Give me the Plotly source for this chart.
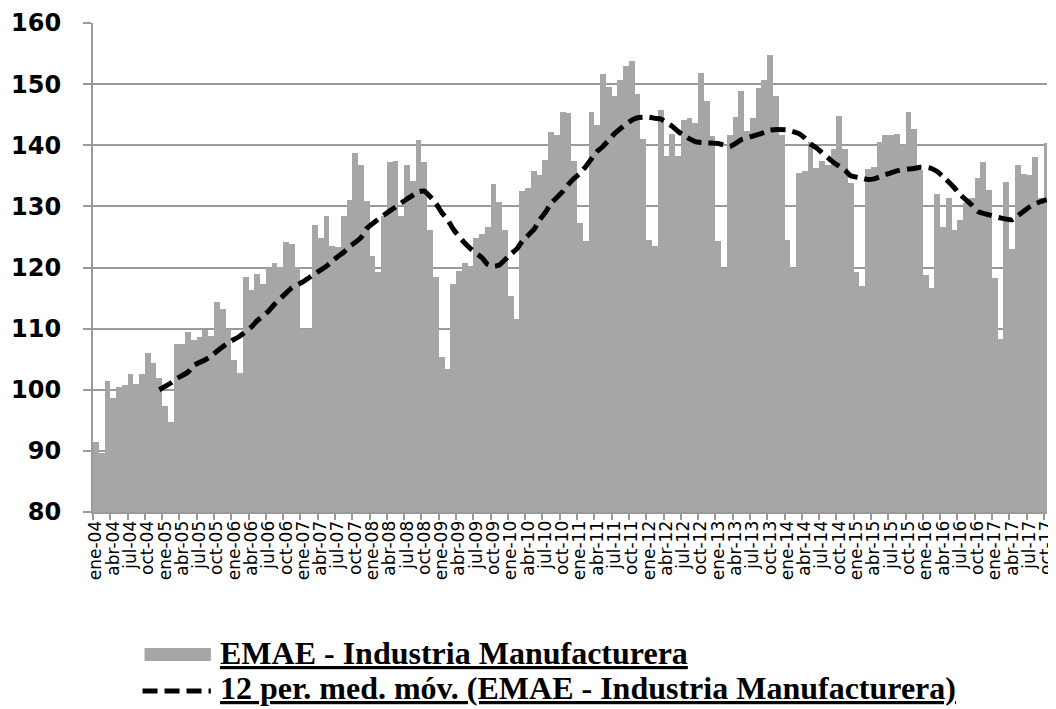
import plotly.graph_objects as go

# ---- categories (monthly, ene-04 .. oct-17) ----
month_abbr = ["ene", "feb", "mar", "abr", "may", "jun", "jul", "ago", "sep", "oct", "nov", "dic"]
years = ["04", "05", "06", "07", "08", "09", "10", "11", "12", "13", "14", "15", "16", "17"]
months = [f"{m}-{y}" for y in years for m in month_abbr][:166]

# ---- EMAE - Industria Manufacturera ----
emae = [
    91.4, 89.7, 101.5, 98.6, 100.5, 100.8, 102.6, 101.0, 102.6, 106.0, 104.4, 102.0,
    97.4, 94.8, 107.5, 107.5, 109.5, 108.1, 108.6, 109.8, 108.8, 114.4, 113.2, 110.0,
    104.9, 102.8, 118.4, 116.4, 119.0, 117.3, 119.9, 120.7, 120.1, 124.2, 123.8, 120.1,
    110.0, 110.0, 127.0, 124.8, 128.5, 123.6, 123.4, 128.5, 131.1, 138.8, 136.7, 130.9,
    121.9, 119.2, 128.4, 137.3, 137.5, 128.4, 136.8, 134.1, 140.8, 137.2, 126.2, 118.5,
    105.3, 103.4, 117.3, 119.4, 120.8, 120.2, 124.8, 125.4, 126.7, 133.7, 130.7, 126.2,
    115.3, 111.5, 132.5, 133.0, 135.8, 135.2, 137.6, 142.1, 141.6, 145.5, 145.2, 137.4,
    127.3, 124.3, 145.4, 143.3, 151.6, 149.5, 148.0, 150.6, 153.0, 153.8, 148.4, 141.1,
    124.5, 123.6, 145.8, 138.3, 141.9, 138.2, 144.2, 144.4, 143.7, 151.9, 147.2, 141.5,
    124.4, 119.8, 141.6, 144.7, 148.8, 142.3, 144.4, 149.4, 150.7, 154.8, 148.1, 141.7,
    124.5, 119.9, 135.5, 135.8, 140.5, 136.3, 137.4, 136.8, 139.4, 144.8, 139.4, 133.9,
    119.3, 116.9, 136.1, 136.5, 140.5, 141.7, 141.7, 141.9, 140.1, 145.4, 142.7, 135.9,
    118.7, 116.7, 132.1, 126.7, 131.4, 126.2, 127.7, 130.6, 131.4, 134.6, 137.3, 132.6,
    118.3, 108.3, 134.0, 123.1, 136.7, 135.3, 135.2, 138.0, 131.4, 140.3,
]

# ---- 12 per. med. móv. ----
ma_month_idx = [
    11, 13, 14, 16, 17, 19, 20, 21, 23, 25, 27, 28, 30, 31, 33, 34, 36, 38, 40, 41,
    42, 43, 44, 46, 47, 49, 50, 52, 54, 56, 57, 59, 60, 61, 62, 64, 65, 67, 68, 69,
    70, 72, 73, 74, 76, 77, 78, 79, 81, 82, 83, 84, 85, 87, 88, 90, 91, 93, 94, 96,
    97, 98, 100, 101, 102, 104, 106, 108, 110, 112, 113, 116, 117, 120, 122, 123, 124, 125, 127, 128,
    130, 131, 133, 134, 135, 137, 138, 139, 141, 142, 143, 144, 145, 146, 147, 149, 150, 152, 153, 155,
    157, 159, 160, 161, 162, 163, 164, 165,
]
ma_values = [
    100.0, 101.1, 101.8, 102.9, 104.0, 104.9, 105.5, 106.3, 107.7, 108.8, 110.3, 111.3, 112.9, 114.0, 115.8, 116.7, 117.7, 119.0, 120.2, 121.0,
    121.8, 122.5, 123.4, 124.9, 126.4, 127.9, 128.6, 129.9, 131.2, 132.4, 132.5, 130.5, 129.0, 127.9, 126.3, 124.0, 123.1, 121.6, 120.5, 120.2,
    120.4, 122.2, 123.0, 124.3, 126.2, 127.8, 129.0, 130.5, 132.4, 133.6, 134.6, 135.4, 136.5, 139.0, 139.8, 141.9, 142.7, 144.1, 144.5, 144.6,
    144.4, 144.3, 143.1, 142.3, 141.6, 140.6, 140.4, 140.3, 139.8, 140.9, 141.2, 142.1, 142.5, 142.5, 141.9, 141.2, 140.2, 139.6, 138.0, 137.2,
    135.9, 135.0, 134.6, 134.4, 134.5, 135.2, 135.5, 135.8, 136.1, 136.2, 136.4, 136.4, 136.2, 135.7, 134.9, 133.0, 131.9, 130.2, 129.2, 128.6,
    128.1, 127.8, 128.5, 129.2, 129.9, 130.4, 130.8, 131.1,
]
ma_months = [months[i] for i in ma_month_idx]

# ---- tick labels (every 3 months) ----
tick_labels = months[::3]
y_ticks = [80, 90, 100, 110, 120, 130, 140, 150, 160]

bar_name = "EMAE - Industria Manufacturera"
ma_name = "12 per. med. móv. (EMAE - Industria Manufacturera)"

BAR_COLOR = "#A6A6A6"
GRID_COLOR = "#9A9A9A"

fig = go.Figure()
fig.add_trace(go.Bar(
    x=months, y=emae, name=bar_name,
    marker=dict(color=BAR_COLOR, line=dict(width=0)),
    showlegend=False,
))
fig.add_trace(go.Scatter(
    x=ma_months, y=ma_values, name=ma_name, mode="lines",
    line=dict(color="black", width=5, dash="15px,7px", shape="spline", smoothing=0.5),
    showlegend=False,
))

# The page body has a default 8px margin, so the figure is sized to fill the
# remaining 1048x701 of the 1056x709 window.
OFF = 8
W, H = 1056 - OFF, 709 - OFF
ML, MR, MT = 93 - OFF, 0, 23 - OFF
MB = H - MT - 489
PW, PH = W - ML - MR, H - MT - MB


def px_x(px):
    return (px - OFF - ML) / PW


def px_y(py):
    return (H - MB - (py - OFF)) / PH


legend_font = dict(family="Liberation Serif, Times New Roman, serif", size=32,
                   color="black", weight="bold", lineposition="under")

shapes = [
    dict(type="rect", xref="paper", yref="paper",
         x0=px_x(145), x1=px_x(212), y0=px_y(648), y1=px_y(661),
         fillcolor=BAR_COLOR, line=dict(width=0)),
    dict(type="line", xref="paper", yref="paper",
         x0=px_x(143), x1=px_x(212), y0=px_y(691), y1=px_y(691),
         line=dict(color="black", width=5, dash="15px,7px")),
]
annotations = [
    dict(xref="paper", yref="paper", x=px_x(219), y=px_y(653), xanchor="left", yanchor="middle",
         text=bar_name, showarrow=False, font=legend_font),
    dict(xref="paper", yref="paper", x=px_x(219), y=px_y(688), xanchor="left", yanchor="middle",
         text=ma_name, showarrow=False, font=legend_font),
]

fig.update_layout(
    width=W, height=H,
    margin=dict(l=ML, r=MR, t=MT, b=MB, pad=0),
    paper_bgcolor="white", plot_bgcolor="white",
    bargap=0,
    shapes=shapes, annotations=annotations,
    xaxis=dict(
        type="category", categoryorder="array", categoryarray=months,
        range=[-0.5, 165.05],
        tickmode="array", tickvals=tick_labels, ticktext=tick_labels,
        tickson="boundaries", ticks="outside", ticklen=6, tickwidth=1.5, tickcolor=GRID_COLOR,
        tickangle=-90, tickfont=dict(family="DejaVu Sans, Verdana, sans-serif", size=17, color="black"),
        showgrid=False, showline=True, linecolor=GRID_COLOR, linewidth=2,
        zeroline=False, fixedrange=True,
    ),
    yaxis=dict(
        range=[80, 160], tickmode="array", tickvals=y_ticks,
        ticks="outside", ticklen=8, tickwidth=2, tickcolor=GRID_COLOR,
        tickfont=dict(family="DejaVu Sans, Verdana, sans-serif", size=24, color="black", weight="bold"),
        ticklabelstandoff=17,
        showgrid=True, gridcolor=GRID_COLOR, gridwidth=2,
        showline=True, linecolor=GRID_COLOR, linewidth=2,
        zeroline=False, fixedrange=True,
    ),
)

fig.write_html("out.html")
